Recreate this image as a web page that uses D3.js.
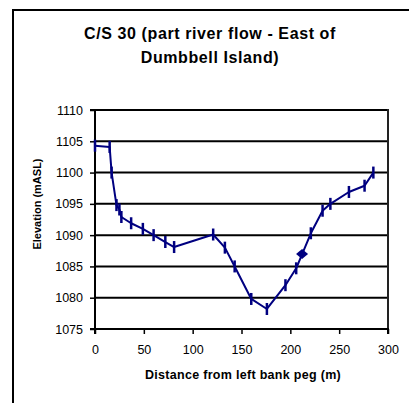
<!DOCTYPE html>
<html>
<head>
<meta charset="utf-8">
<script src="https://cdn.jsdelivr.net/npm/d3@7"></script>
<style>
  html, body { margin: 0; padding: 0; background: #fff; }
  svg { display: block; }
  text { font-family: "Liberation Sans", Arial, sans-serif; fill: #000; }
</style>
</head>
<body>
<svg id="chart" width="409" height="403"></svg>
<script>
// Cross-section survey: distance from left bank peg (m) and bed elevation (mASL)
const distance = [0, 15, 17, 22, 25, 27, 37, 49, 60, 72, 81, 121, 133, 143, 160, 176, 195, 206, 221, 233, 241, 260, 276, 285];
const elevation = [1104.3, 1104.1, 1100.0, 1094.8, 1094.1, 1092.9, 1091.9, 1091.0, 1090.0, 1088.9, 1088.1, 1090.1, 1088.0, 1085.0, 1079.8, 1078.2, 1082.0, 1084.7, 1090.3, 1093.9, 1095.0, 1096.9, 1097.9, 1100.0];
// Water level observation
const waterDistance = [212];
const waterElevation = [1087.0];

const xTicks = [0, 50, 100, 150, 200, 250, 300];
const yTicks = [1075, 1080, 1085, 1090, 1095, 1100, 1105, 1110];
const titleLines = ["C/S 30 (part river flow - East of", "Dumbbell Island)"];
const xTitle = "Distance from left bank peg (m)";
const yTitle = "Elevation (mASL)";

const svg = d3.select("#chart");
const navy = "#000080";

// Outer chart frame
svg.append("rect")
  .attr("x", 13).attr("y", 10)
  .attr("width", 420).attr("height", 420)
  .attr("fill", "none").attr("stroke", "#000").attr("stroke-width", 2);

const plot = { left: 95, top: 110, right: 388, bottom: 329 };
const x = d3.scaleLinear().domain([0, 300]).range([plot.left, plot.right]);
const y = d3.scaleLinear().domain([1075, 1110]).range([plot.bottom, plot.top]);

// Horizontal gridlines
svg.append("g")
  .selectAll("line")
  .data(yTicks.slice(1))
  .join("line")
  .attr("x1", plot.left).attr("x2", plot.right)
  .attr("y1", d => y(d)).attr("y2", d => y(d))
  .attr("stroke", "#000").attr("stroke-width", 2);

// Plot area border on the right
svg.append("line")
  .attr("x1", plot.right).attr("x2", plot.right)
  .attr("y1", plot.top - 1).attr("y2", plot.bottom)
  .attr("stroke", "#222").attr("stroke-width", 2);

// Axes
const yAxis = d3.axisLeft(y).tickValues(yTicks).tickSize(5).tickPadding(7).tickFormat(d3.format("d"));
const xAxis = d3.axisBottom(x).tickValues(xTicks).tickSize(5).tickPadding(11).tickFormat(d3.format("d"));

const gy = svg.append("g").attr("transform", `translate(${plot.left},0)`).call(yAxis);
const gx = svg.append("g").attr("transform", `translate(0,${plot.bottom})`).call(xAxis);

[gx, gy].forEach(g => {
  g.select(".domain").attr("stroke", "#000").attr("stroke-width", 2);
  g.selectAll(".tick line").attr("stroke", "#000").attr("stroke-width", 1.5);
  g.selectAll(".tick text")
    .attr("font-family", "'Liberation Sans', Arial, sans-serif")
    .attr("font-size", 12.5).attr("fill", "#000");
});
gy.select(".domain").attr("d", `M-5,${plot.top}H0V${plot.bottom}H-5`);
gx.select(".domain").attr("d", `M${plot.left},5V0H${plot.right}V5`);

// Profile line
const line = d3.line().x(d => x(d[0])).y(d => y(d[1]));
const profile = distance.map((d, i) => [d, elevation[i]]);
svg.append("path")
  .datum(profile)
  .attr("d", line)
  .attr("fill", "none").attr("stroke", navy).attr("stroke-width", 2)
  .attr("stroke-linejoin", "round");

// Vertical bar markers at each surveyed point
svg.append("g")
  .selectAll("line")
  .data(profile)
  .join("line")
  .attr("x1", d => x(d[0])).attr("x2", d => x(d[0]))
  .attr("y1", d => y(d[1]) - 6).attr("y2", d => y(d[1]) + 6)
  .attr("stroke", navy).attr("stroke-width", 2.5);

// Water level marker
svg.append("g")
  .selectAll("path")
  .data(waterDistance.map((d, i) => [d, waterElevation[i]]))
  .join("path")
  .attr("transform", d => `translate(${x(d[0])},${y(d[1])})`)
  .attr("d", "M0,-5L6,0L0,5L-6,0Z")
  .attr("fill", navy);

// Titles
const title = svg.append("text")
  .attr("text-anchor", "middle")
  .attr("font-size", 16).attr("font-weight", "bold")
  .attr("letter-spacing", 0.6);
titleLines.forEach((t, i) => {
  title.append("tspan").attr("x", 210).attr("y", 39 + i * 24).text(t);
});

svg.append("text")
  .attr("x", 243).attr("y", 379)
  .attr("text-anchor", "middle")
  .attr("font-size", 12.5).attr("font-weight", "bold")
  .attr("letter-spacing", 0.3)
  .text(xTitle);

svg.append("text")
  .attr("transform", "translate(41,204) rotate(-90)")
  .attr("text-anchor", "middle")
  .attr("font-size", 11).attr("font-weight", "bold")
  .text(yTitle);
</script>
</body>
</html>
